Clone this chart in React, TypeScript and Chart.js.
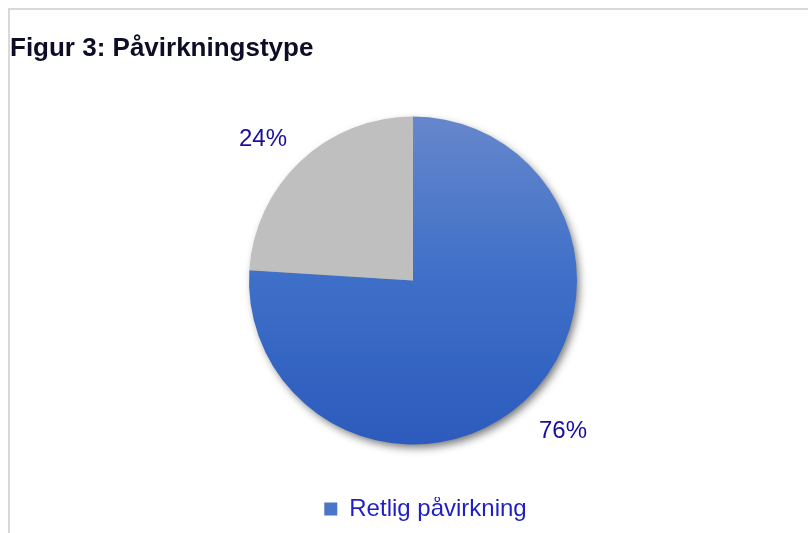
import React, { useEffect, useRef } from "react";
import { Chart, registerables } from "chart.js";

Chart.register(...registerables);

const titleText = "Figur 3: Påvirkningstype";
const categories = ["Retlig påvirkning", ""];
const values = [76, 24];
const valueLabels = ["76%", "24%"];

const shadowPlugin = {
  id: "pieShadow",
  beforeDatasetsDraw(chart: any) {
    const meta = chart.getDatasetMeta(0);
    const arc = meta.data[0];
    if (!arc) return;
    const { x, y, outerRadius } = arc.getProps(["x", "y", "outerRadius"], true);
    const ctx = chart.ctx;
    ctx.save();
    ctx.shadowColor = "rgba(0,0,0,0.55)";
    ctx.shadowBlur = 9;
    ctx.shadowOffsetX = 3;
    ctx.shadowOffsetY = 4;
    ctx.beginPath();
    ctx.arc(x, y, outerRadius - 1, 0, Math.PI * 2);
    ctx.fillStyle = "#8a8a8a";
    ctx.fill();
    ctx.restore();
  },
};

const labelPlugin = {
  id: "pieLabels",
  afterDatasetsDraw(chart: any) {
    const meta = chart.getDatasetMeta(0);
    const ctx = chart.ctx;
    ctx.save();
    ctx.font = "24px 'Liberation Sans', Arial, sans-serif";
    ctx.fillStyle = "#1a0f9a";
    meta.data.forEach((arc: any, i: number) => {
      const { x, y, startAngle, endAngle, outerRadius } = arc.getProps(
        ["x", "y", "startAngle", "endAngle", "outerRadius"],
        true
      );
      const mid = (startAngle + endAngle) / 2;
      const cx = Math.cos(mid);
      const sy = Math.sin(mid);
      const r = outerRadius + 20;
      ctx.textAlign = cx >= 0 ? "left" : "right";
      ctx.textBaseline = sy >= 0 ? "top" : "alphabetic";
      ctx.fillText(valueLabels[i], x + cx * r, y + sy * r + (sy >= 0 ? 5 : 0));
    });
    ctx.restore();
  },
};

export default function App() {
  const ref = useRef<HTMLCanvasElement | null>(null);

  useEffect(() => {
    if (!ref.current) return;
    const chart = new Chart(ref.current, {
      type: "pie",
      data: {
        labels: categories,
        datasets: [
          {
            data: values,
            borderWidth: 0,
            radius: 164,
            backgroundColor: (c: any) => {
              if (c.dataIndex === 1) return "#bfbfbf";
              const ch = c.chart;
              const area = ch.chartArea;
              if (!area) return "#3d6fc7";
              const cy = (area.top + area.bottom) / 2;
              const g = ch.ctx.createLinearGradient(0, cy - 164, 0, cy + 164);
              g.addColorStop(0, "#6687cc");
              g.addColorStop(0.5, "#3e6fc8");
              g.addColorStop(1, "#2c5bbd");
              return g;
            },
          },
        ],
      },
      options: {
        animation: false,
        responsive: false,
        maintainAspectRatio: false,
        layout: { padding: { top: 0, bottom: 2, left: 0, right: 0 } },
        plugins: {
          title: {
            display: true,
            text: titleText,
            align: "start",
            color: "#0d0d26",
            font: { family: "'Liberation Sans', Arial, sans-serif", size: 26, weight: "bold" },
            padding: { top: 23, bottom: 0 },
          },
          legend: {
            display: true,
            position: "bottom",
            labels: {
              color: "#1f1fc4",
              font: { family: "'Liberation Sans', Arial, sans-serif", size: 24 },
              boxWidth: 13,
              boxHeight: 13,
              padding: 0,
              generateLabels: () => [
                {
                  text: "",
                  fillStyle: "rgba(0,0,0,0)",
                  strokeStyle: "rgba(0,0,0,0)",
                  lineWidth: 0,
                  hidden: false,
                  index: 1,
                  datasetIndex: 0,
                },
                {
                  text: categories[0],
                  fillStyle: "#4a76c9",
                  strokeStyle: "rgba(0,0,0,0)",
                  lineWidth: 0,
                  hidden: false,
                  index: 0,
                  datasetIndex: 0,
                  fontColor: "#1f1fc4",
                },
              ],
            },
          },
          tooltip: { enabled: false },
        },
      },
      plugins: [shadowPlugin, labelPlugin],
    });
    return () => chart.destroy();
  }, []);

  return (
    <div
      style={{
        position: "absolute",
        left: 8,
        top: 8,
        width: 800,
        height: 525,
        boxSizing: "border-box",
        borderTop: "2px solid #d9d9d9",
        borderLeft: "2px solid #d9d9d9",
        overflow: "hidden",
        background: "#fff",
      }}
    >
      <canvas ref={ref} width={806} height={523} style={{ display: "block", width: 806, height: 523 }} />
    </div>
  );
}
